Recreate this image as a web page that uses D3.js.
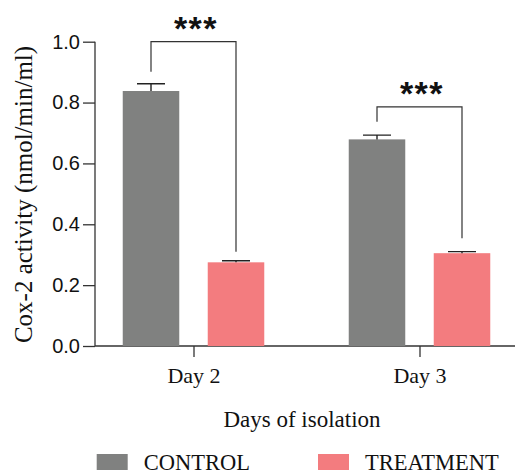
<!DOCTYPE html>
<html><head><meta charset="utf-8">
<script src="https://cdn.jsdelivr.net/npm/d3@7"></script>
<style>body{margin:0;background:#fff}svg{display:block}</style>
</head><body>
<script>
const categories = ["Day 2", "Day 3"];
const seriesNames = ["CONTROL", "TREATMENT"];
const controlValues = [0.838, 0.679];
const treatmentValues = [0.275, 0.305];
const controlErrors = [0.024, 0.014];
const treatmentErrors = [0.005, 0.005];
const yTicks = [0.0, 0.2, 0.4, 0.6, 0.8, 1.0];
// significance brackets: top level, left leg end, right leg end (data units)
const sigLabels = ["***", "***"];
const sigTop = [1.0, 0.786];
const sigLeft = [0.901, 0.737];
const sigRight = [0.31, 0.354];

const colors = {CONTROL: "#808180", TREATMENT: "#f37c7f"};
const W = 515, H = 473;
const svg = d3.select("body").append("svg").attr("width", W).attr("height", H);

const y = d3.scaleLinear().domain([0, 1]).range([346, 41.7]);
const x = d3.scalePoint().domain(categories).range([193.5, 419.5]);
const xs = d3.scaleBand().domain(seriesNames).range([-85, 85]).paddingInner(0.335).paddingOuter(0.1675);
const bw = xs.bandwidth();

const rows = categories.map((c, i) => ({cat: c, vals: [
  {s: "CONTROL", v: controlValues[i], e: controlErrors[i]},
  {s: "TREATMENT", v: treatmentValues[i], e: treatmentErrors[i]}]}));

// y axis
const yAxis = svg.append("g").attr("transform", "translate(95,0)")
  .call(d3.axisLeft(y).tickValues(yTicks).tickFormat(d3.format(".1f")).tickSize(12).tickPadding(3));
yAxis.select(".domain").attr("stroke", "#333").attr("stroke-width", 1.3).attr("d", `M0,${y(0)}V${y(1)}`);
yAxis.selectAll(".tick line").attr("stroke", "#333").attr("stroke-width", 1.3);
yAxis.selectAll(".tick text").attr("font-family", "'Liberation Sans', Arial, sans-serif").attr("font-size", 20).attr("fill", "#111");

// x axis
const xAxis = svg.append("g").attr("transform", `translate(0,${y(0)})`)
  .call(d3.axisBottom(x).tickSize(11).tickPadding(10));
xAxis.select(".domain").attr("stroke", "#333").attr("stroke-width", 1.3).attr("d", `M95,0H515`);
xAxis.selectAll(".tick line").attr("stroke", "#333").attr("stroke-width", 1.3);
xAxis.selectAll(".tick text").attr("font-family", "'Liberation Serif', 'Times New Roman', serif").attr("font-size", 22).attr("fill", "#111");

// bars
const g = svg.append("g");
const grp = g.selectAll("g.grp").data(rows).join("g").attr("transform", d => `translate(${x(d.cat)},0)`);
grp.selectAll("rect").data(d => d.vals).join("rect")
  .attr("x", d => xs(d.s)).attr("width", bw)
  .attr("y", d => y(d.v)).attr("height", d => y(0) - y(d.v))
  .attr("fill", d => colors[d.s]);
// error bars
grp.selectAll("path.err").data(d => d.vals).join("path").attr("class", "err")
  .attr("d", d => {
    const cx = xs(d.s) + bw / 2;
    return `M${cx},${y(d.v)}V${y(d.v + d.e)}M${cx - 14},${y(d.v + d.e)}H${cx + 14}`;
  })
  .attr("fill", "none").attr("stroke", "#222").attr("stroke-width", 1.4);

// significance brackets
categories.forEach((c, i) => {
  const xl = x(c) + xs("CONTROL") + bw / 2;
  const xr = x(c) + xs("TREATMENT") + bw / 2;
  svg.append("path")
    .attr("d", `M${xl},${y(sigLeft[i])}V${y(sigTop[i])}H${xr}V${y(sigRight[i])}`)
    .attr("fill", "none").attr("stroke", "#333").attr("stroke-width", 1.2);
  svg.append("text").attr("x", (xl + xr) / 2 + 2.5).attr("y", y(sigTop[i]) - 2)
    .attr("text-anchor", "middle").attr("font-family", "'Liberation Sans', Arial, sans-serif")
    .attr("font-weight", "bold").attr("font-size", 34).attr("letter-spacing", 1.5)
    .attr("fill", "#111").text(sigLabels[i]);
});

// axis titles
svg.append("text").attr("transform", "translate(31.5,194.5) rotate(-90)")
  .attr("text-anchor", "middle").attr("font-family", "'Liberation Serif', 'Times New Roman', serif")
  .attr("font-size", 25).attr("fill", "#111").text("Cox-2 activity (nmol/min/ml)");
svg.append("text").attr("x", 302).attr("y", 427)
  .attr("text-anchor", "middle").attr("font-family", "'Liberation Serif', 'Times New Roman', serif")
  .attr("font-size", 23).attr("fill", "#111").text("Days of isolation");

// legend
const legX = [96.7, 318];
const leg = svg.selectAll("g.leg").data(seriesNames).join("g").attr("class", "leg")
  .attr("transform", (d, i) => `translate(${legX[i]},454)`);
leg.append("rect").attr("width", 31).attr("height", 16).attr("fill", d => colors[d]);
leg.append("text").attr("x", 47).attr("y", 15.5)
  .attr("font-family", "'Liberation Serif', 'Times New Roman', serif").attr("font-size", 22.5)
  .attr("fill", "#111").text(d => d);
</script>
</body></html>
